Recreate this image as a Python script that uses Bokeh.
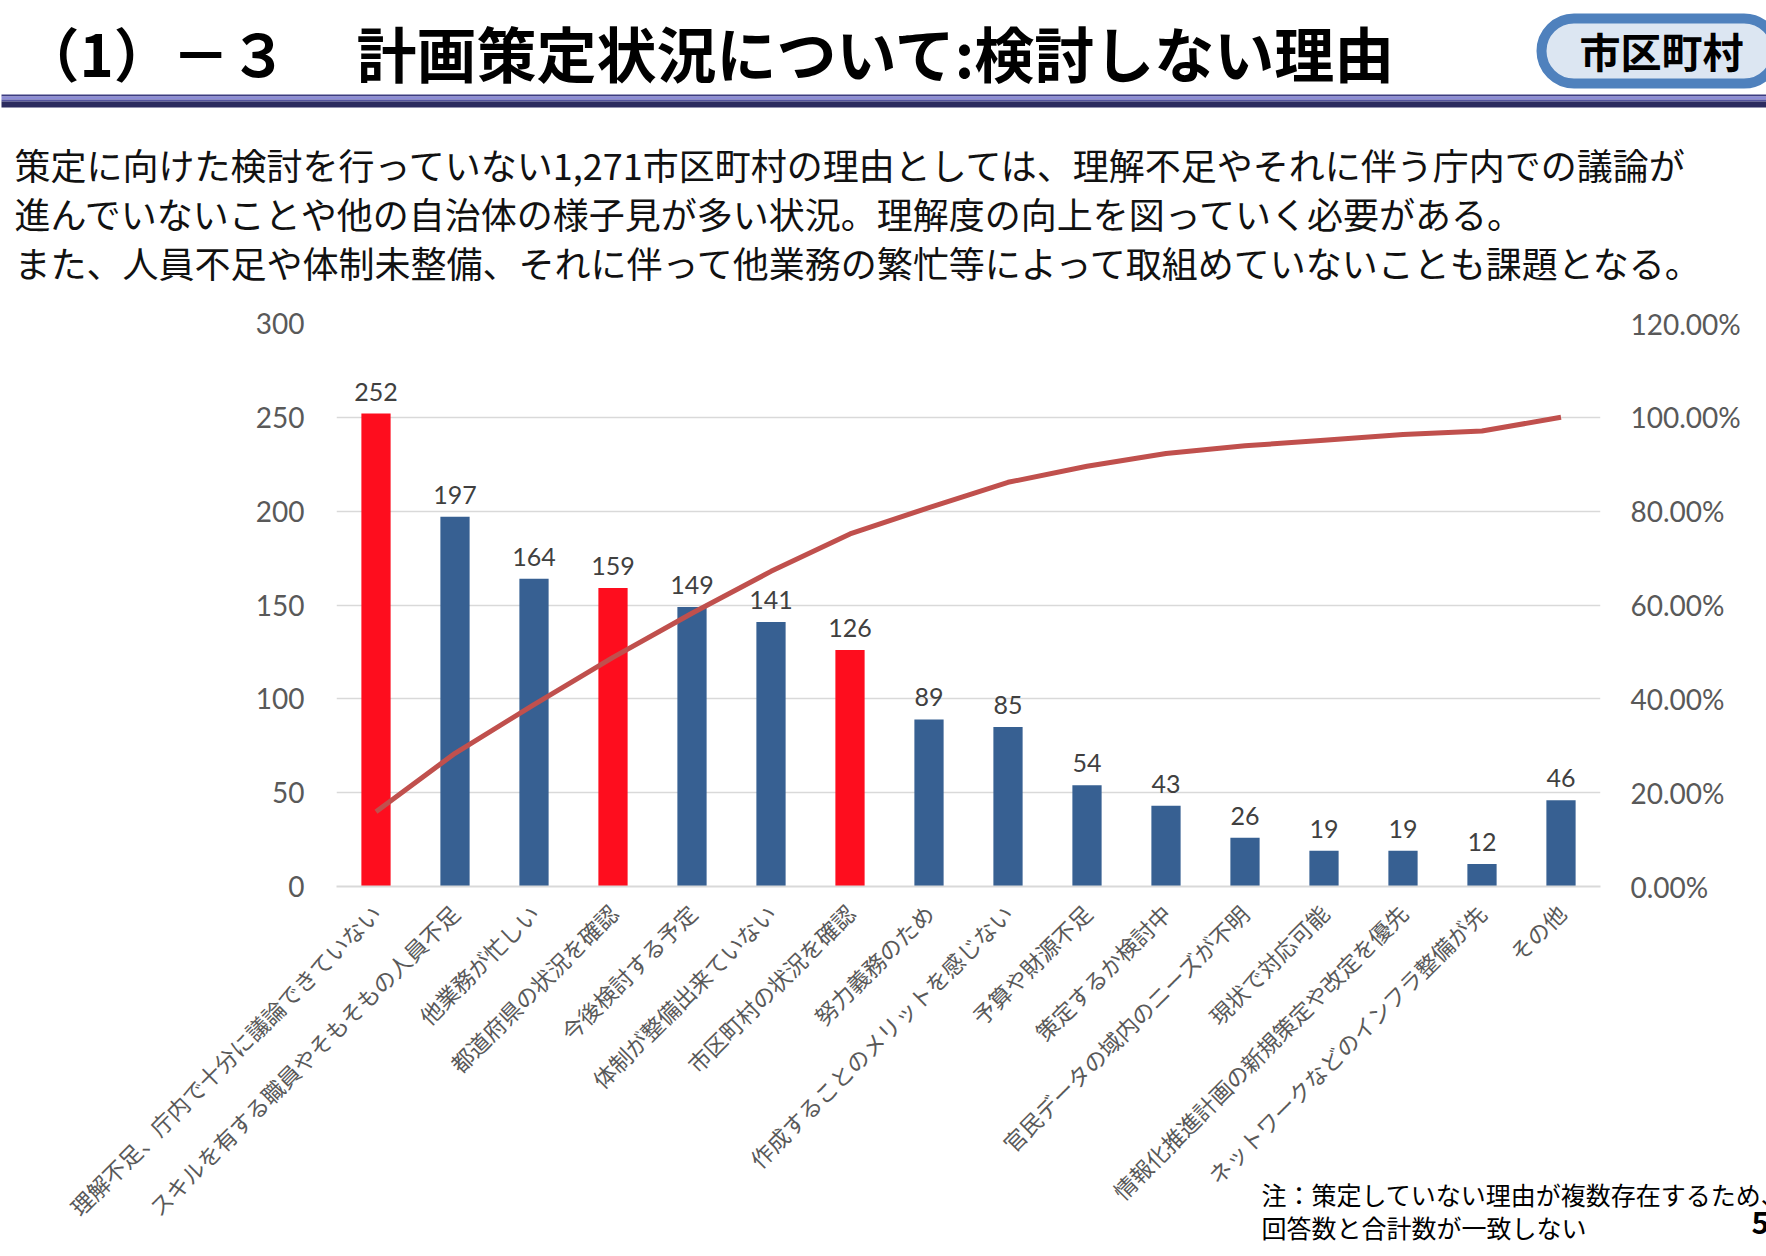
import math
from bokeh.plotting import figure
from bokeh.models import (Range1d, FactorRange, LinearAxis, FixedTicker, PrintfTickFormatter,
                          ColumnDataSource, BoxAnnotation, GridBox)
from bokeh.core.properties import value
from bokeh.embed import file_html
from bokeh.resources import INLINE

# ---------------- data ----------------
categories = [
    "理解不足、庁内で十分に議論できていない",
    "スキルを有する職員やそもそもの人員不足",
    "他業務が忙しい",
    "都道府県の状況を確認",
    "今後検討する予定",
    "体制が整備出来ていない",
    "市区町村の状況を確認",
    "努力義務のため",
    "作成することのメリットを感じない",
    "予算や財源不足",
    "策定するか検討中",
    "官民データの域内のニーズが不明",
    "現状で対応可能",
    "情報化推進計画の新規策定や改定を優先",
    "ネットワークなどのインフラ整備が先",
    "その他",
]
counts = [252, 197, 164, 159, 149, 141, 126, 89, 85, 54, 43, 26, 19, 19, 12, 46]
cumulative_pct = [15.94, 28.40, 38.77, 48.83, 58.25, 67.17, 75.14, 80.77,
                  86.15, 89.56, 92.28, 93.93, 95.13, 96.33, 97.09, 100.00]
highlighted = ["理解不足、庁内で十分に議論できていない", "都道府県の状況を確認", "市区町村の状況を確認"]
left_ticks = [0, 50, 100, 150, 200, 250, 300]
right_ticks = [0, 20, 40, 60, 80, 100, 120]

title_num = "（1）－３"
title_main = "計画策定状況について:検討しない理由"
badge_text = "市区町村"
body_lines = [
    "策定に向けた検討を行っていない1,271市区町村の理由としては、理解不足やそれに伴う庁内での議論が",
    "進んでいないことや他の自治体の様子見が多い状況。理解度の向上を図っていく必要がある。",
    "また、人員不足や体制未整備、それに伴って他業務の繁忙等によって取組めていないことも課題となる。",
]
note_lines = ["注：策定していない理由が複数存在するため、", "回答数と合計数が一致しない"]
page_no = "5"

JP = value("Noto Sans CJK JP")
NUM = value("Lato")
BLUE = "#376092"
RED = "#fe0d1e"
GREY = "#595959"

W = 1766
H = 1256

# ---------------- chart figure (full canvas) ----------------
p = figure(width=W, height=H, x_range=FactorRange(factors=categories), y_range=Range1d(0, 300),
           output_backend="svg", toolbar_location=None,
           min_border_left=336, min_border_right=166, min_border_top=323, min_border_bottom=370,
           outline_line_color=None)
p.frame_align = False
p.extra_y_ranges = {"pct": Range1d(0, 120)}

colors = [RED if c in highlighted else BLUE for c in categories]
src = ColumnDataSource(dict(cat=categories, val=counts, lab=[str(v) for v in counts], col=colors))
p.vbar(x="cat", top="val", width=0.37, color="col", line_color=None, source=src)
p.line(x=categories, y=cumulative_pct, y_range_name="pct", line_color="#c0504d", line_width=5)
p.text(x="cat", y="val", text="lab", source=src, y_offset=-13, text_font=NUM,
       text_font_size="25px", text_align="center", text_baseline="bottom", text_color="#404040")

p.xgrid.visible = False
p.ygrid.grid_line_color = "#d9d9d9"
p.ygrid.grid_line_width = 1.5
p.ygrid.ticker = FixedTicker(ticks=left_ticks)

xa = p.xaxis[0]
xa.major_label_orientation = math.pi / 4
xa.major_label_text_font = "Noto Sans CJK JP"
xa.major_label_text_font_size = "22.5px"
xa.major_label_text_color = GREY
xa.major_tick_line_color = None
xa.axis_line_color = "#d9d9d9"
xa.axis_line_width = 2
xa.major_label_standoff = 16

ya = p.yaxis[0]
ya.ticker = FixedTicker(ticks=left_ticks)
ya.axis_line_color = None
ya.major_tick_line_color = None
ya.minor_tick_line_color = None
ya.major_label_text_font = "Lato"
ya.major_label_text_font_size = "28px"
ya.major_label_text_color = GREY
ya.major_label_standoff = 26

ra = LinearAxis(y_range_name="pct", ticker=FixedTicker(ticks=right_ticks),
                formatter=PrintfTickFormatter(format="%.2f%%"))
ra.axis_line_color = None
ra.major_tick_line_color = None
ra.minor_tick_line_color = None
ra.major_label_text_font = "Lato"
ra.major_label_text_font_size = "28px"
ra.major_label_text_color = GREY
ra.major_label_standoff = 24
p.add_layout(ra, "right")

# ---------------- overlay figure (page texts and decorations, pixel coordinates) ----------------
ov = figure(width=W, height=H, x_range=Range1d(0, W), y_range=Range1d(H, 0),
            x_axis_type=None, y_axis_type=None, output_backend="svg",
            toolbar_location=None, min_border=0, outline_line_color=None,
            background_fill_color=None, border_fill_color=None)
ov.grid.visible = False
ov.frame_align = False

ov.quad(left=[1, 1, 1, 1], right=[W, W, W, W],
        top=[94, 96, 99, 101], bottom=[96, 99, 101, 107],
        color=["#3c3c80", "#8c8cd6", "#55559e", "#2b2b5e"], line_color=None)

badge = BoxAnnotation(left=1541, right=1776, top=18, bottom=83, level="underlay",
                      fill_color="#dce6f2", fill_alpha=1.0,
                      line_color="#4f81bd", line_alpha=1.0, line_width=10,
                      border_radius=33)
ov.add_layout(badge)

ov.text(x=[21], y=[51], text=[title_num], text_font=JP, text_font_style="bold",
        text_font_size="58px", text_baseline="middle", text_align="left", text_color="#000000")
ov.text(x=[356], y=[51], text=[title_main], text_font=JP, text_font_style="bold",
        text_font_size="60px", text_baseline="middle", text_align="left", text_color="#000000")
ov.text(x=[1661], y=[49], text=[badge_text], text_font=JP, text_font_style="bold",
        text_font_size="41px", text_baseline="middle", text_align="center", text_color="#000000")
ov.text(x=[14, 14, 14], y=[163, 212, 261], text=body_lines, text_font=JP,
        text_font_size="36px", text_baseline="middle", text_align="left", text_color="#111111")
ov.text(x=[1261, 1261], y=[1193, 1226], text=note_lines, text_font=JP,
        text_font_size="25px", text_baseline="middle", text_align="left", text_color="#000000")
ov.text(x=[1751], y=[1222], text=[page_no], text_font=JP, text_font_style="bold",
        text_font_size="30px", text_baseline="middle", text_align="left", text_color="#000000")

layout = GridBox(children=[(p, 0, 0), (ov, 0, 0)])
open("out.html", "w").write(file_html(layout, INLINE))
